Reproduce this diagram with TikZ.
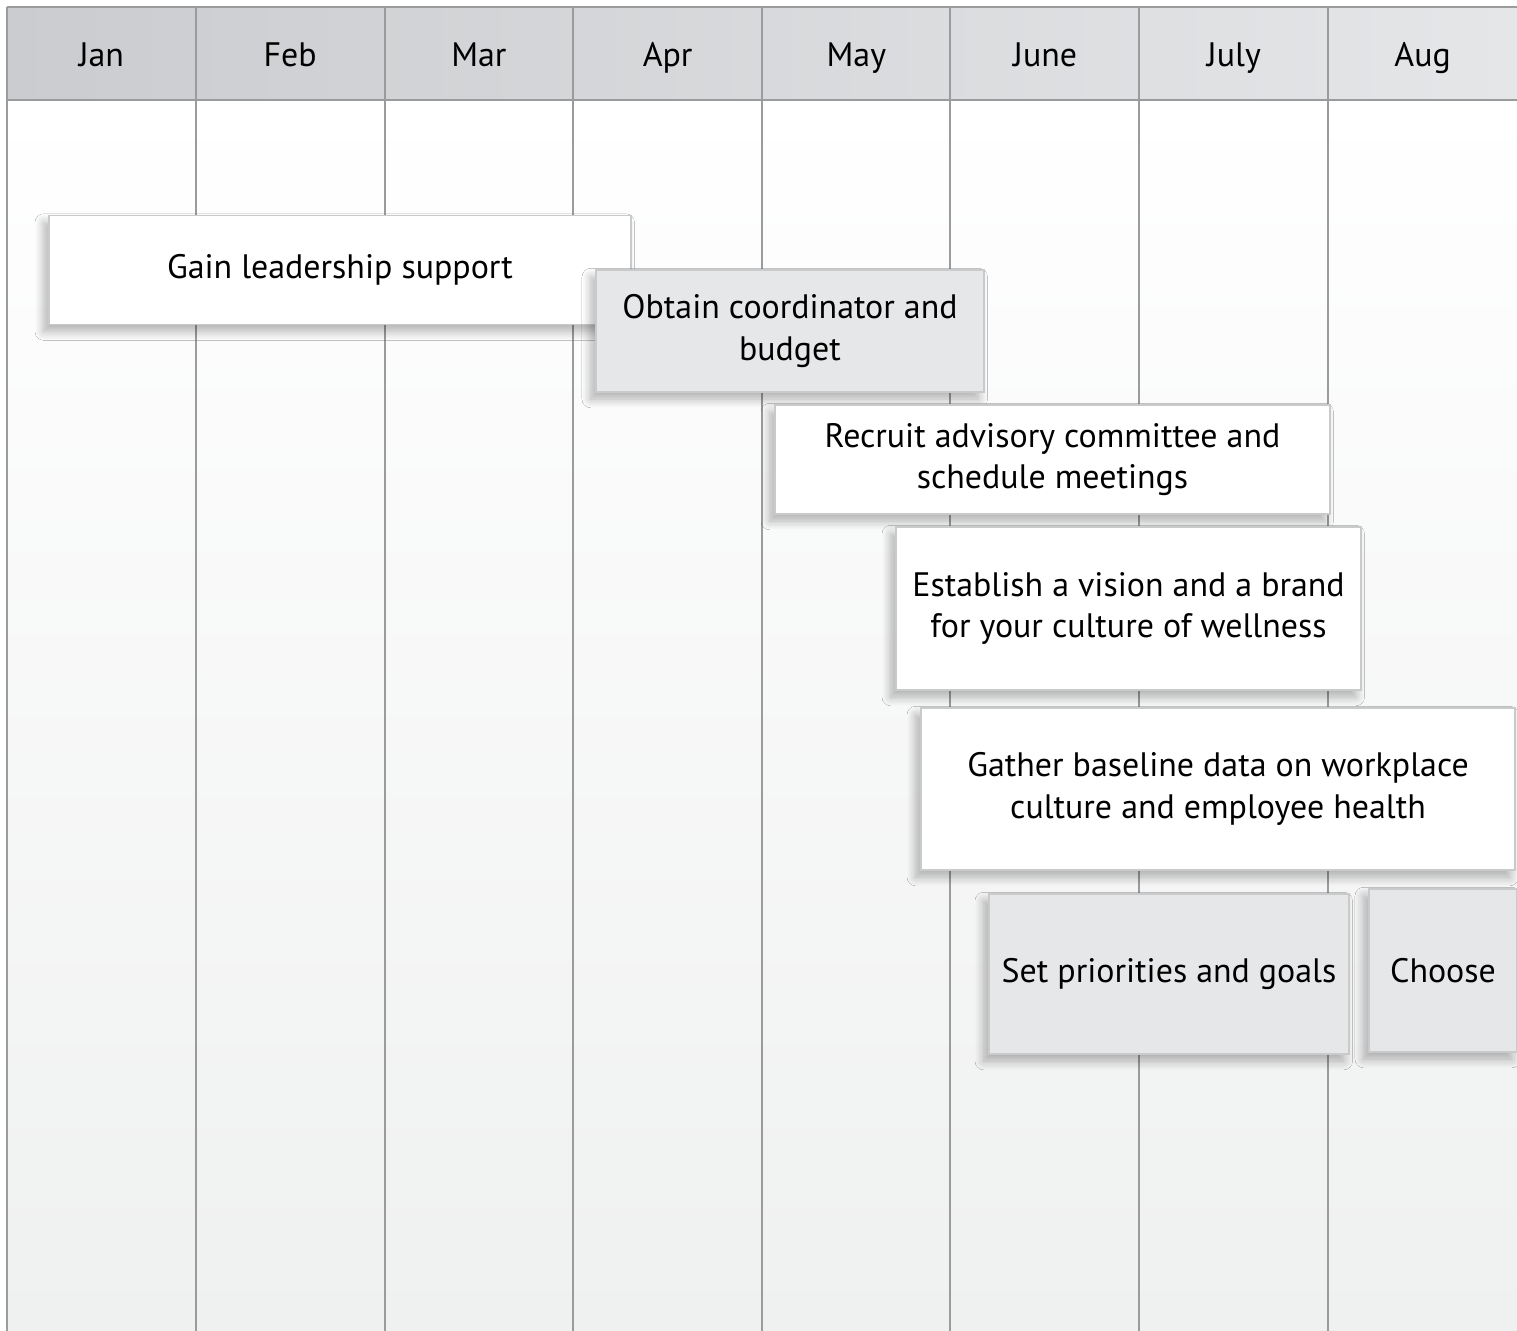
\documentclass[tikz,border=0pt]{standalone}
\usepackage{fontspec}
\setmainfont{PT Sans}
\usetikzlibrary{shadows.blur}
\definecolor{gridgray}{HTML}{9A9B9D}
\definecolor{headdark}{HTML}{CBCCCF}
\definecolor{headlight}{HTML}{E5E6E8}
\definecolor{boxgray}{HTML}{E6E7E8}
\definecolor{boxedge}{HTML}{C9CACC}
\definecolor{bodylow}{HTML}{EFF0F0}
\begin{document}
\begin{tikzpicture}[x=0.02cm, y=-0.02cm, font=\fontsize{19.3}{23.5}\selectfont,
    month/.style={inner sep=0pt, anchor=base},
    task/.style={draw=boxedge, line width=1pt, fill=white, align=center, inner sep=2pt,
        blur shadow={shadow xshift=-3pt, shadow yshift=-4pt, shadow blur radius=5pt,
            shadow blur steps=12, shadow opacity=30}},
    graytask/.style={task, fill=boxgray}]
    \useasboundingbox (0,0) rectangle (1517,1331);
    % background and header
    \shade[top color=white, bottom color=bodylow] (7,100) rectangle (1517,1331);
    \shade[left color=headdark, right color=headlight] (7,7) rectangle (1517,100);
    \foreach \x in {7,196,385,573,762,950,1139,1328}
        \draw[gridgray, line width=1.5pt] (\x,7) -- (\x,1331);
    \draw[gridgray, line width=1.2pt] (7,7) -- (1517,7);
    \draw[gridgray, line width=1.5pt] (7,100) -- (1517,100);
    \foreach \m [count=\i] in {Jan,Feb,Mar,Apr,May,June,July,Aug}
        \node[month] (\m) at ({7+188.75*(\i-0.5)},67) {\m};
    % tasks
    \node[task, minimum width=11.64cm, minimum height=2.18cm] (leadership) at (340,270) {Gain leadership support};
    \node[graytask, minimum width=7.76cm, minimum height=2.44cm] (coordinator) at (790,331) {Obtain coordinator and\\budget};
    \node[task, minimum width=11.10cm, minimum height=2.18cm] (committee) at (1052.5,459.5) {Recruit advisory committee and\\schedule meetings};
    \node[task, minimum width=9.30cm, minimum height=3.26cm] (vision) at (1128.5,608.5) {Establish a vision and a brand\\for your culture of wellness};
    \node[task, minimum width=11.88cm, minimum height=3.24cm] (baseline) at (1218,789) {Gather baseline data on workplace\\culture and employee health};
    \node[graytask, minimum width=7.20cm, minimum height=3.20cm] (priorities) at (1169,974) {Set priorities and goals};
    \node[graytask, minimum width=2.96cm, minimum height=3.26cm] (choose) at (1443,970.5) {Choose};
\end{tikzpicture}
\end{document}
